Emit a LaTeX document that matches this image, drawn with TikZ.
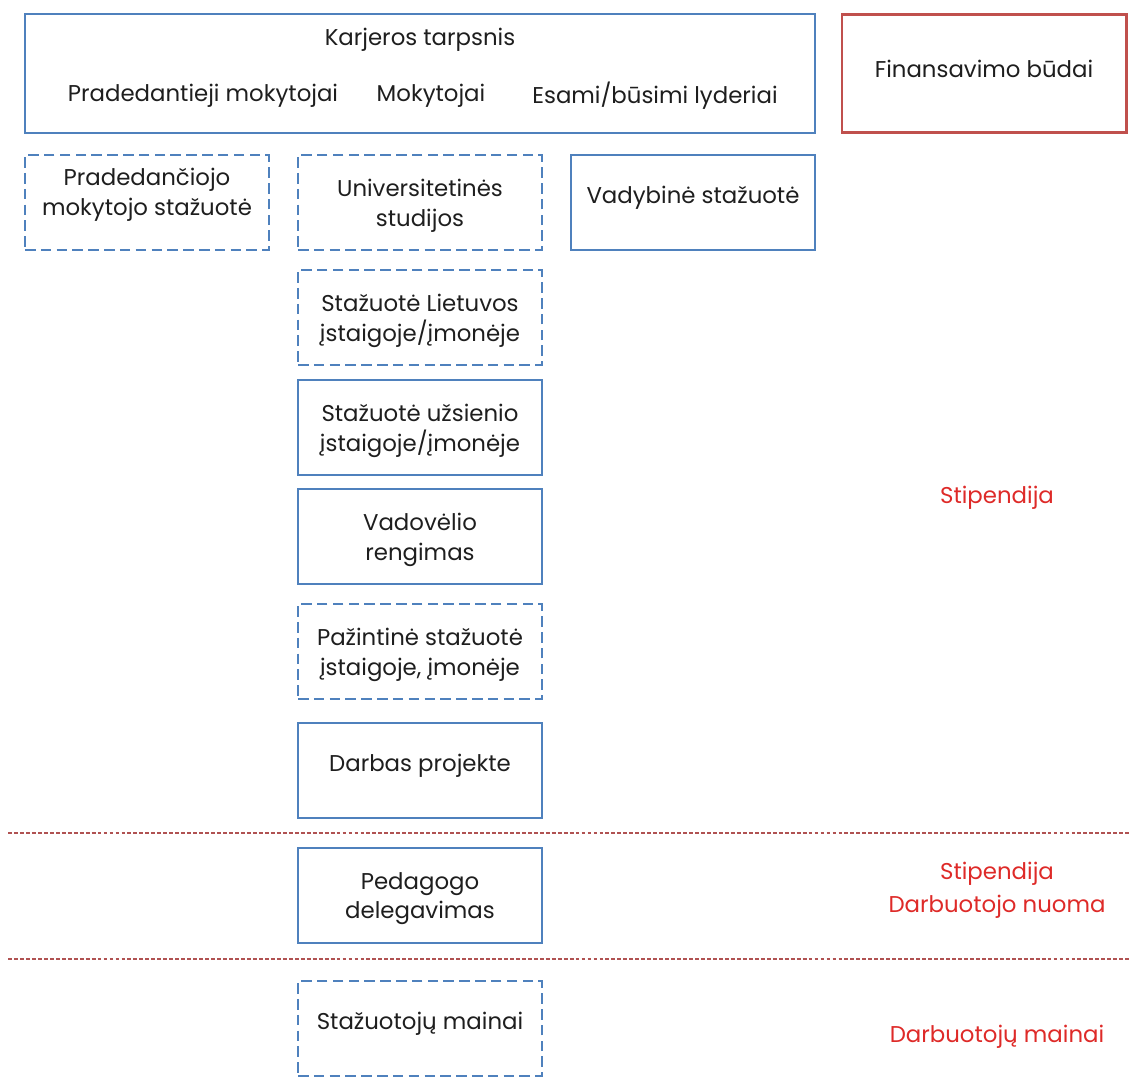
\documentclass[tikz,border=0pt]{standalone}
\usepackage{fontspec}
\setmainfont{Poppins}
\usetikzlibrary{positioning}
\definecolor{boxblue}{RGB}{79,129,189}
\definecolor{boxred}{RGB}{192,80,77}
\definecolor{txtred}{RGB}{222,42,40}
\definecolor{seplinecol}{RGB}{176,82,82}
\definecolor{txtdark}{RGB}{30,30,30}

\begin{document}
\begin{tikzpicture}[
    every node/.style={
        align=center,
        text=txtdark,
        outer sep=0pt,
        font=\fontsize{13}{17}\selectfont
      },
    box/.style={
        draw=boxblue,
        line width=1.7pt,
        minimum width=4.88cm,
        minimum height=1.9cm,
        inner sep=0pt,
        text depth=0pt
      },
    dbox/.style={
        box,
        dash pattern=on 6pt off 3pt
      },
    oneline/.style={
        text height=10pt,
        text depth=9pt
      },
    fund/.style={
        text=txtred
      },
    sepline/.style={
        draw=seplinecol,
        line width=0.8pt,
        dash pattern=on 2.2pt off 1.2pt
      }
    ]

    \useasboundingbox (0,0) rectangle (22.62,-21.54);

    % ============= KARJEROS TARPSNIS ==================

    % -------------------------------
    \node[box, minimum width=15.8cm, minimum height=2.38cm] (K) at (8.40,-1.47) {};
    \node (KT) at ([yshift=-0.52cm]K.north) {Karjeros tarpsnis};
    \node (PM) at ([xshift=3.56cm, yshift=-0.44cm]K.west) {Pradedantieji mokytojai};
    \node (M) at ([xshift=0.22cm, yshift=-0.44cm]K.center) {Mokytojai};
    \node (EL) at ([xshift=-3.2cm, yshift=-0.44cm]K.east) {Esami/būsimi lyderiai};
    % -------------------------------

    % -------------------------------
    \node[box, draw=boxred, minimum width=5.68cm, minimum height=2.36cm,
      text height=10pt, text depth=6pt, right=0.54cm of K] (F) {Finansavimo būdai};
    % -------------------------------


    % ============= PIRMOJI EILUTE ==================

    % -------------------------------
    \node[dbox, text depth=12pt, below right=0.44cm and 0cm of K.south west] (PS) {Pradedančiojo\\mokytojo stažuotė};
    \node[dbox, below=0.44cm of K.south] (US) {Universitetinės\\studijos};
    \node[box, oneline, below left=0.44cm and 0cm of K.south east] (VS) {Vadybinė stažuotė};
    % -------------------------------


    % ============= STULPELIS ==================

    % -------------------------------
    \node[dbox, below=0.4cm of US] (SL) {Stažuotė Lietuvos\\įstaigoje/įmonėje};
    \node[box, below=0.3cm of SL] (SU) {Stažuotė užsienio\\įstaigoje/įmonėje};
    \node[box, below=0.28cm of SU] (VR) {Vadovėlio\\rengimas};
    \node[dbox, below=0.4cm of VR] (PZ) {Pažintinė stažuotė\\įstaigoje, įmonėje};
    \node[box, oneline, below=0.48cm of PZ] (DP) {Darbas projekte};
    % -------------------------------

    % -------------------------------
    \node[box, below=0.6cm of DP] (PD) {Pedagogo\\delegavimas};
    % -------------------------------

    % -------------------------------
    \node[dbox, oneline, below=0.76cm of PD] (SM) {Stažuotojų mainai};
    % -------------------------------


    % ============= FINANSAVIMAS (DESINE) ==================
    \node[fund] (ST1) at (19.94,-9.96) {Stipendija};
    \node[fund] (ST2) at (19.94,-17.48) {Stipendija};
    \node[fund] (DN) at (19.94,-18.14) {Darbuotojo nuoma};
    \node[fund] (DM) at (19.94,-20.74) {Darbuotojų mainai};

    % ============= LINIJOS ==================
    \coordinate (A1) at (0.16,-16.66);
    \coordinate (B1) at (22.62,-16.66);
    \coordinate (A2) at (0.16,-19.18);
    \coordinate (B2) at (22.62,-19.18);
    \draw[sepline] (A1) -- (B1)
        (A2) -- (B2);

  \end{tikzpicture}
\end{document}
